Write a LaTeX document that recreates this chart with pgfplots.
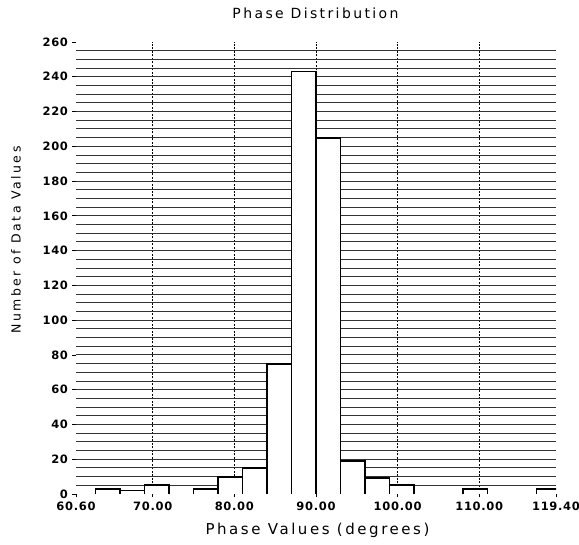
\documentclass[border=0pt]{standalone}
\usepackage{fontspec}
\usepackage{pgfplots}
\pgfplotsset{compat=1.18}
\setmainfont{DejaVu Sans}
\newfontfamily\labfont[LetterSpace=17]{DejaVu Sans}
\newfontfamily\ylabfont[LetterSpace=20]{DejaVu Sans}
\newfontfamily\titlefont[LetterSpace=17]{DejaVu Sans}
\newfontfamily\tickfont[LetterSpace=6]{DejaVu Sans}

\begin{document}
\begin{tikzpicture}
  \useasboundingbox (-76pt,-51pt) rectangle (503pt,494pt);
  \begin{axis}[
      at={(0pt,0pt)}, anchor=south west,
      scale only axis,
      width=480pt, height=452pt,
      xmin=60.6, xmax=119.4,
      ymin=0, ymax=260,
      axis line style={draw=none},
      tick align=outside,
      xtick pos=bottom, ytick pos=left,
      major tick length=3.5pt,
      minor tick length=0pt,
      tick style={black, line width=0.8pt},
      xtick={70,80,90,100,110},
      xticklabels={70.00,80.00,90.00,100.00,110.00},
      extra x ticks={60.6,119.4},
      extra x tick labels={60.60,119.40},
      extra x tick style={grid=none},
      xmajorgrids,
      x grid style={black, line width=0.7pt, dash pattern=on 2pt off 1.5pt},
      ytick={0,20,...,260},
      minor ytick={5,10,...,255},
      yminorgrids, ymajorgrids=false,
      minor y grid style={black!80, line width=0.9pt},
      /pgf/number format/assume math mode=true,
      ticklabel style={font=\tickfont\bfseries\fontsize{11.5}{13}\selectfont},
      xticklabel style={yshift=-1pt},
      yticklabel style={xshift=-1pt},
    ]
    % histogram, bins 3 degrees wide, one path per run of non-empty bins
    \addplot[draw=black, fill=white, line width=1.8pt] coordinates {
      (63,0) (63,3) (66,3) (66,0) (66,2) (69,2) (69,0) (69,5) (72,5) (72,0)
    };
    \addplot[draw=black, fill=white, line width=1.8pt] coordinates {
      (75,0) (75,3) (78,3) (78,0) (78,10) (81,10) (81,0) (81,15) (84,15) (84,0)
      (84,75) (87,75) (87,0) (87,243) (90,243) (90,0) (90,205) (93,205) (93,0)
      (93,19) (96,19) (96,0) (96,9) (99,9) (99,0) (99,5) (102,5) (102,0)
    };
    \addplot[draw=black, fill=white, line width=1.8pt] coordinates {
      (108,0) (108,3) (111,3) (111,0)
    };
    \addplot[draw=black, fill=white, line width=1.8pt] coordinates {
      (117,0) (117,3) (120,3) (120,0)
    };
  \end{axis}
  \node[font=\titlefont\fontsize{14}{16}\selectfont] at (239.5pt,481pt) {Phase Distribution};
  \node[font=\labfont\fontsize{15}{17}\selectfont] at (241.5pt,-36pt) {Phase Values (degrees)};
  \node[font=\ylabfont\fontsize{12.5}{14}\selectfont, rotate=90] at (-60pt,254pt) {Number of Data Values};
\end{tikzpicture}
\end{document}
